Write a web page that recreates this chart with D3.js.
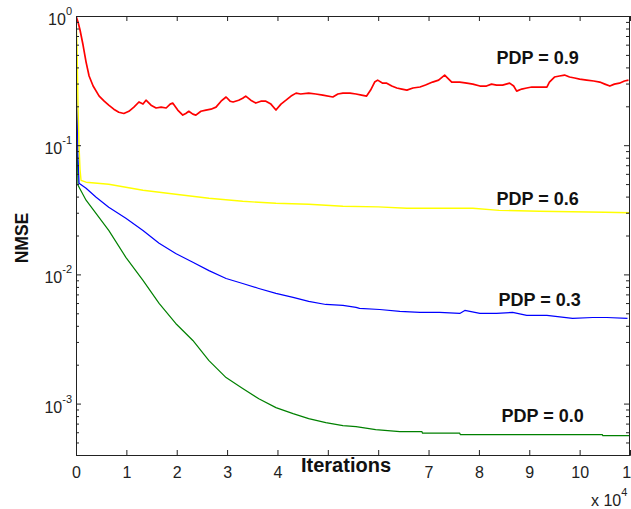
<!DOCTYPE html>
<html>
<head>
<meta charset="utf-8">
<script src="https://cdn.jsdelivr.net/npm/d3@7/dist/d3.min.js"></script>
<style>
  html, body { margin: 0; padding: 0; background: #fff; }
  svg { display: block; font-family: "Liberation Sans", Arial, Helvetica, sans-serif; }
</style>
</head>
<body>
<svg id="chart" width="631" height="509"></svg>
<script>
// Iterations in units of 10^4; NMSE on a log scale.
const iterTicks = [0, 1, 2, 3, 4, 5, 6, 7, 8, 9, 10, 11];
// tick labels hidden under the x-axis title
const iterTicksUnderTitle = [5, 6];
const nmseExponents = [0, -1, -2, -3];

// PDP = 0.9
const iterRed = [0, 0.04, 0.08, 0.14, 0.2, 0.26, 0.34, 0.46, 0.56, 0.65, 0.75, 0.85, 0.95,
  1.05, 1.15, 1.25, 1.33, 1.39, 1.49, 1.59, 1.69, 1.79, 1.87, 1.92, 2.02, 2.12, 2.18, 2.24,
  2.32, 2.38, 2.48, 2.58, 2.68, 2.78, 2.88, 2.98, 3.06, 3.12, 3.23, 3.31, 3.37, 3.47, 3.57,
  3.67, 3.77, 3.87, 3.97, 4.07, 4.17, 4.27, 4.37, 4.46, 4.62, 4.76, 4.90, 5.10, 5.20, 5.30,
  5.44, 5.56, 5.67, 5.77, 5.85, 5.93, 5.99, 6.09, 6.17, 6.27, 6.37, 6.47, 6.57, 6.69, 6.83,
  6.94, 7.08, 7.20, 7.32, 7.38, 7.46, 7.62, 7.76, 7.88, 8.02, 8.15, 8.25, 8.35, 8.47, 8.61,
  8.69, 8.75, 8.85, 8.95, 9.05, 9.15, 9.25, 9.35, 9.40, 9.50, 9.60, 9.70, 9.80, 9.90, 10.0,
  10.14, 10.28, 10.40, 10.50, 10.60, 10.69, 10.79, 10.89, 10.97];
const nmseRed = [1.0, 0.898, 0.779, 0.596, 0.440, 0.343, 0.287, 0.240, 0.219, 0.204, 0.190, 0.180, 0.176,
  0.183, 0.197, 0.216, 0.208, 0.223, 0.204, 0.194, 0.197, 0.194, 0.208, 0.212, 0.187, 0.171, 0.176, 0.183,
  0.174, 0.171, 0.183, 0.187, 0.190, 0.197, 0.219, 0.236, 0.219, 0.216, 0.223, 0.231, 0.240, 0.223, 0.212,
  0.219, 0.219, 0.208, 0.187, 0.208, 0.223, 0.240, 0.253, 0.249, 0.253, 0.249, 0.244, 0.236, 0.249, 0.253,
  0.253, 0.249, 0.244, 0.240, 0.267, 0.308, 0.319, 0.302, 0.302, 0.287, 0.277, 0.272, 0.267, 0.277, 0.282,
  0.292, 0.308, 0.319, 0.349, 0.331, 0.308, 0.308, 0.302, 0.297, 0.287, 0.287, 0.297, 0.292, 0.292, 0.302,
  0.287, 0.262, 0.272, 0.277, 0.282, 0.282, 0.282, 0.282, 0.308, 0.337, 0.343, 0.349, 0.337, 0.331, 0.325,
  0.319, 0.314, 0.308, 0.297, 0.287, 0.297, 0.302, 0.314, 0.319];

// PDP = 0.6
const iterYellow = [0, 0.02, 0.04, 0.06, 0.08, 0.10, 0.2, 0.65, 1.33, 1.98, 2.64, 3.31, 3.97,
  4.62, 5.30, 6.0, 6.57, 7.88, 8.4, 9.2, 10.5, 11.0];
const nmseYellow = [1.0, 0.6, 0.2, 0.1, 0.065, 0.0535, 0.0517, 0.0499, 0.0448, 0.0417, 0.0388, 0.0368, 0.0355,
  0.0349, 0.0337, 0.0333, 0.0325, 0.0325, 0.0313, 0.0308, 0.0303, 0.0300];

// PDP = 0.3
const iterBlue = [0, 0.04, 0.06, 0.2, 0.4, 0.65, 0.99, 1.33, 1.65, 1.98, 2.32, 2.64, 2.98, 3.31,
  3.63, 3.97, 4.31, 4.62, 4.96, 5.30, 5.56, 5.63, 6.03, 6.43, 6.83, 7.22, 7.62, 7.72, 8.02,
  8.35, 8.67, 8.95, 9.35, 9.86, 10.26, 10.54, 10.95];
const nmseBlue = [0.48, 0.08, 0.0507, 0.0464, 0.0395, 0.0331, 0.0272, 0.0219, 0.0174, 0.0145, 0.0124, 0.0107,
  0.0093, 0.0085, 0.00778, 0.00713, 0.00664, 0.00618, 0.00585, 0.00575, 0.00555, 0.00545, 0.00535, 0.00517,
  0.00508, 0.00508, 0.00499, 0.00526, 0.00499, 0.00499, 0.00508, 0.00481, 0.00481, 0.00456, 0.00464,
  0.00464, 0.00456];

// PDP = 0.0
const iterGreen = [0, 0.04, 0.2, 0.65, 0.99, 1.33, 1.65, 1.98, 2.32, 2.64, 2.98, 3.31, 3.63, 3.97,
  4.31, 4.62, 4.96, 5.30, 5.56, 5.95, 6.43, 6.87, 6.88, 7.62, 7.63, 10.45, 10.46, 11.0];
const nmseGreen = [0.25, 0.049, 0.0375, 0.0219, 0.01355, 0.00898, 0.00596, 0.00417, 0.00308, 0.00215, 0.00159,
  0.00131, 0.00109, 0.000931, 0.000836, 0.000765, 0.000712, 0.000675, 0.000663, 0.000629, 0.000606,
  0.000606, 0.000590, 0.000590, 0.000575, 0.000575, 0.000565, 0.000565];

const seriesNames = ["PDP = 0.0", "PDP = 0.3", "PDP = 0.6", "PDP = 0.9"];
const seriesColors = ["#008000", "#0000ff", "#ffff00", "#ff0000"];

const svg = d3.select("#chart");
const plotLeft = 76, plotRight = 630, plotTop = 16, plotBottom = 455;

const x = d3.scaleLinear().domain([0, 11]).range([plotLeft, plotRight]);
const y = d3.scaleLog().domain([4e-4, 1]).range([plotBottom, plotTop]);

const axisColor = "#222";

// Curves
const series = [
  { name: seriesNames[0], color: seriesColors[0], xs: iterGreen, ys: nmseGreen, w: 1.2 },
  { name: seriesNames[1], color: seriesColors[1], xs: iterBlue, ys: nmseBlue, w: 1.2 },
  { name: seriesNames[2], color: seriesColors[2], xs: iterYellow, ys: nmseYellow, w: 1.4 },
  { name: seriesNames[3], color: seriesColors[3], xs: iterRed, ys: nmseRed, w: 1.7 }
];

const line = d3.line().x(d => x(d[0])).y(d => y(d[1]));

svg.append("defs").append("clipPath").attr("id", "plot-clip")
  .append("rect").attr("x", plotLeft).attr("y", plotTop)
  .attr("width", plotRight - plotLeft).attr("height", plotBottom - plotTop);

const plot = svg.append("g").attr("clip-path", "url(#plot-clip)");
series.forEach(s => {
  plot.append("path")
    .datum(s.xs.map((v, i) => [v, s.ys[i]]))
    .attr("fill", "none")
    .attr("stroke", s.color)
    .attr("stroke-width", s.w)
    .attr("stroke-linejoin", "round")
    .attr("d", line);
});

// Axes: inward ticks on all four sides
const xBottom = d3.axisBottom(x).tickValues(iterTicks).tickSize(-5).tickPadding(12)
  .tickFormat(d => iterTicksUnderTitle.includes(d) ? "" : d3.format("d")(d));
const xTop = d3.axisTop(x).tickValues(iterTicks).tickSize(-5).tickFormat("");

const majorVals = nmseExponents.map(e => Math.pow(10, e));
const minorVals = [];
[-4, -3, -2, -1].forEach(e => {
  for (let m = 2; m <= 9; m++) {
    const v = m * Math.pow(10, e);
    if (v >= 4e-4 && v <= 1) minorVals.push(v);
  }
});

function styleAxis(g) {
  g.select(".domain").attr("stroke", axisColor).attr("stroke-width", 1);
  g.selectAll(".tick line").attr("stroke", axisColor);
}

const gxb = svg.append("g").attr("transform", `translate(0,${plotBottom})`).call(xBottom);
gxb.call(styleAxis);
gxb.selectAll("text").attr("font-size", 16).attr("fill", axisColor)
  .attr("font-family", "\"Liberation Sans\", Arial, sans-serif");

svg.append("g").attr("transform", `translate(0,${plotTop})`).call(xTop).call(styleAxis);

const yLeftMajor = d3.axisLeft(y).tickValues(majorVals).tickSize(-5).tickFormat("");
const yRightMajor = d3.axisRight(y).tickValues(majorVals).tickSize(-5).tickFormat("");
const yLeftMinor = d3.axisLeft(y).tickValues(minorVals).tickSize(-3).tickFormat("");
const yRightMinor = d3.axisRight(y).tickValues(minorVals).tickSize(-3).tickFormat("");

svg.append("g").attr("transform", `translate(${plotLeft},0)`).call(yLeftMajor).call(styleAxis);
svg.append("g").attr("transform", `translate(${plotLeft},0)`).call(yLeftMinor).call(styleAxis);
svg.append("g").attr("transform", `translate(${plotRight - 1},0)`).call(yRightMajor).call(styleAxis);
svg.append("g").attr("transform", `translate(${plotRight - 1},0)`).call(yRightMinor).call(styleAxis);

// Y tick labels as 10 with superscript exponent
nmseExponents.forEach(e => {
  const t = svg.append("text")
    .attr("x", plotLeft - 4)
    .attr("y", y(Math.pow(10, e)) + 9)
    .attr("text-anchor", "end")
    .attr("fill", axisColor)
    .attr("font-size", 16);
  t.append("tspan").text("10");
  t.append("tspan").attr("font-size", 11).attr("dy", -10).text(String(e));
});

// Exponent note for the x axis
const xn = svg.append("text")
  .attr("x", 591).attr("y", 506)
  .attr("fill", axisColor)
  .attr("font-size", 16);
xn.append("tspan").text("x 10");
xn.append("tspan").attr("font-size", 11).attr("dy", -10).text("4");

// Axis titles
svg.append("text")
  .attr("x", 346).attr("y", 472)
  .attr("text-anchor", "middle")
  .attr("font-size", 20).attr("font-weight", "bold").attr("fill", "#111")
  .text("Iterations");

svg.append("text")
  .attr("transform", `translate(28,238) rotate(-90)`)
  .attr("text-anchor", "middle")
  .attr("font-size", 17.5).attr("font-weight", "bold").attr("fill", "#111")
  .text("NMSE");

// Curve labels
const labelPos = [
  { name: seriesNames[3], xv: 8.35, bl: 64 },
  { name: seriesNames[2], xv: 8.35, bl: 205 },
  { name: seriesNames[1], xv: 8.39, bl: 306 },
  { name: seriesNames[0], xv: 8.45, bl: 422 }
];
labelPos.forEach(l => {
  svg.append("text")
    .attr("x", x(l.xv)).attr("y", l.bl)
    .attr("font-size", 18).attr("font-weight", "bold").attr("fill", "#111")
    .text(l.name);
});
</script>
</body>
</html>
